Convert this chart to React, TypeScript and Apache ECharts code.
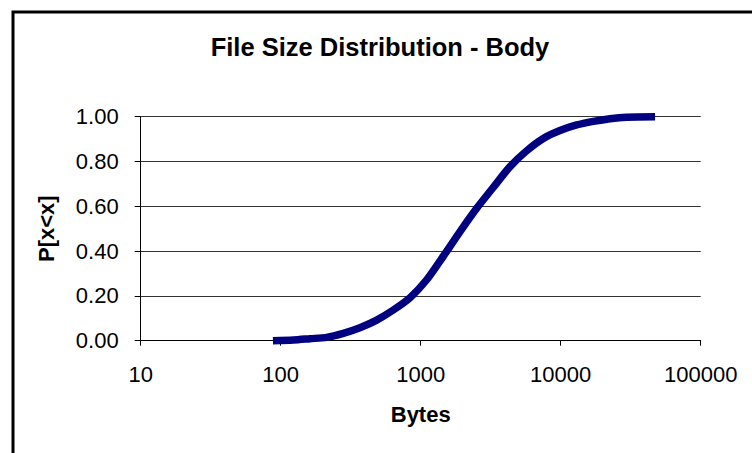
import { useEffect, useRef } from "react";
import * as echarts from "echarts";

// Empirical CDF of body sizes (bytes → cumulative probability)
const byteSizes = [88, 123, 162, 213, 280, 368, 485, 637, 839, 1104, 1450, 1910, 2512, 3304, 4345, 5715, 7516, 9886, 13000, 17100, 22500, 29600, 47200];
const cumulativeProb = [0, 0.003, 0.009, 0.015, 0.033, 0.058, 0.092, 0.137, 0.192, 0.272, 0.377, 0.487, 0.591, 0.685, 0.777, 0.848, 0.903, 0.938, 0.963, 0.979, 0.991, 0.998, 1.0];

const FONT = "'Liberation Sans', Arial, sans-serif";

export default function App() {
  const ref = useRef<HTMLDivElement>(null);

  useEffect(() => {
    if (!ref.current) return;
    const chart = echarts.init(ref.current, null, { renderer: "svg" });
    const points = byteSizes.map((b, i) => [b, cumulativeProb[i]]);

    chart.setOption({
      animation: false,
      backgroundColor: "#ffffff",
      title: {
        text: "File Size Distribution - Body",
        left: 375,
        top: 29,
        textAlign: "center",
        textStyle: { fontFamily: FONT, fontSize: 25.5, fontWeight: "bold", color: "#000" },
      },
      graphic: [
        {
          type: "rect",
          shape: { x: 13, y: 12, width: 820, height: 520 },
          style: { fill: "none", stroke: "#000", lineWidth: 3 },
          silent: true,
        },
      ],
      grid: { left: 140.7, right: 51.3, top: 116.7, bottom: 112.3, containLabel: false },
      xAxis: {
        type: "log",
        logBase: 10,
        min: 10,
        max: 100000,
        name: "Bytes",
        nameLocation: "middle",
        nameGap: 63,
        nameTextStyle: { fontFamily: FONT, fontSize: 22, fontWeight: "bold", color: "#000" },
        axisLine: { show: true, lineStyle: { color: "#000", width: 1 } },
        axisTick: { show: true, length: 5, lineStyle: { color: "#000" } },
        axisLabel: {
          margin: 23,
          fontFamily: FONT,
          fontSize: 22,
          color: "#000",
          formatter: (v: number) => String(Math.round(v)),
        },
        splitLine: { show: false },
        minorTick: { show: false },
      },
      yAxis: {
        type: "value",
        min: 0,
        max: 1,
        interval: 0.2,
        name: "P[x<x]",
        nameLocation: "middle",
        nameGap: 83,
        nameTextStyle: { fontFamily: FONT, fontSize: 22, fontWeight: "bold", color: "#000" },
        axisLine: { show: true, lineStyle: { color: "#000", width: 1 } },
        axisTick: { show: true, length: 6, lineStyle: { color: "#000" } },
        axisLabel: {
          margin: 22,
          fontFamily: FONT,
          fontSize: 22,
          color: "#000",
          formatter: (v: number) => v.toFixed(2),
        },
        splitLine: { show: true, lineStyle: { color: "#333", width: 1 } },
      },
      series: [
        {
          type: "line",
          data: points,
          showSymbol: false,
          smooth: 0.25,
          clip: false,
          lineStyle: { color: "#000080", width: 7.5, cap: "butt", join: "round" },
          itemStyle: { color: "#000080" },
        },
      ],
    });

    return () => chart.dispose();
  }, []);

  return (
    <div
      ref={ref}
      style={{ position: "fixed", left: 0, top: 0, width: 752, height: 453 }}
    />
  );
}
